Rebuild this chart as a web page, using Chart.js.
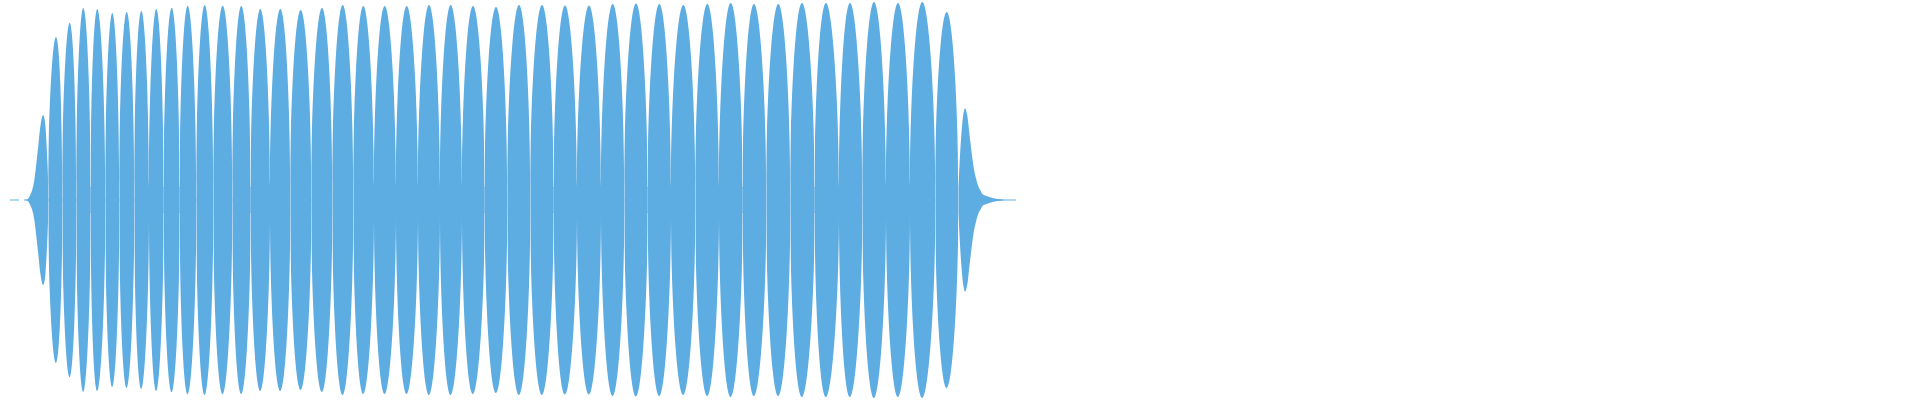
<!DOCTYPE html>
<html>
<head>
<meta charset="utf-8">
<script src="https://cdn.jsdelivr.net/npm/chart.js@4/dist/chart.umd.min.js"></script>
<style>
  html, body { margin: 0; padding: 0; background: #fff; }
  #wrap { width: 1920px; height: 400px; }
</style>
</head>
<body>
<div id="wrap"><canvas id="wave"></canvas></div>
<script>
// time in ms (0..1920), amplitude normalised to full scale
const headT   = [24, 27.5, 30, 32.5, 34.5, 36.5, 38.5, 40.5, 43, 45.5, 47.5];
const headAmp = [0, 0.004, 0.023, 0.055, 0.105, 0.190, 0.281, 0.373, 0.424, 0.366, 0.180];

const gapT = [48.3, 62.3, 76.3, 90.7, 105.3, 119.3, 134.3, 149, 163.7, 179.7,
  196.3, 213.3, 232.3, 250.7, 270, 290.3, 311.3, 332.3, 353.3, 374,
  396, 418, 440, 462, 484.7, 507.3, 530.3, 553.7, 577, 601,
  624.3, 647.7, 671, 695.3, 719, 742.7, 766.3, 790.3, 814.7, 839,
  862.3, 886, 910, 935.3, 958.3];
const bandAmp = 0.065;

const peakT = [56, 69.7, 83.3, 97.3, 112.3, 126.7, 141.3, 156.3, 171.7, 187.7,
  204.7, 222.7, 241.3, 260.3, 280.3, 300.7, 322, 342.7, 363.3, 384.7,
  406.7, 429, 450.7, 473, 496, 519, 542, 565, 589, 612.7,
  636, 659.3, 683.3, 707.3, 730.7, 754, 778.3, 802, 826, 850,
  874, 898, 922.3, 946.7];
const peakAmp = [0.815, 0.886, 0.960, 0.955, 0.935, 0.940, 0.945, 0.955, 0.961, 0.971,
  0.975, 0.971, 0.970, 0.955, 0.955, 0.950, 0.960, 0.975, 0.970, 0.970,
  0.970, 0.975, 0.975, 0.970, 0.965, 0.975, 0.975, 0.973, 0.973, 0.980,
  0.983, 0.980, 0.975, 0.980, 0.985, 0.980, 0.980, 0.985, 0.985, 0.985,
  0.990, 0.985, 0.990, 0.940];

const tailT   = [959.2, 960.2, 961.2, 962.2, 963.2, 965, 967, 968.2, 969.2, 970.2,
  971.2, 972.2, 973.2, 974.2, 976.2, 978.2, 980.5, 982.5, 985, 988, 992.5, 997.5, 1003];
const tailAmp = [0.148, 0.240, 0.315, 0.380, 0.423, 0.459, 0.430, 0.390, 0.340, 0.298,
  0.255, 0.215, 0.178, 0.148, 0.105, 0.070, 0.048, 0.030, 0.023, 0.018, 0.010, 0.005, 0.0025];

// stretches of silence drawn as a flat trace
const silenceT = [[10, 19], [24, 28], [990, 1016]];

const COLOR = "#5dade2";
const datasets = [];

function addLobe(points, monotone) {
  [1, -1].forEach(sign => {
    datasets.push({
      data: points.map(p => ({ x: p[0], y: sign * p[1] })),
      backgroundColor: COLOR,
      borderWidth: 0,
      pointRadius: 0,
      fill: "origin",
      tension: monotone ? 0.4 : 0.5,
      cubicInterpolationMode: monotone ? "monotone" : "default"
    });
  });
}

// first lobe with its slow onset
const head = headT.map((t, i) => [t, headAmp[i]]);
head.push([gapT[0], bandAmp]);
addLobe(head, true);

// full lobes between consecutive gaps; the extra band-level points
// give the flanks a vertical start at the gap
peakT.forEach((t, i) => {
  const a = gapT[i], b = gapT[i + 1];
  addLobe([
    [a, bandAmp], [t, bandAmp], [a, bandAmp],
    [t, peakAmp[i]],
    [b, bandAmp], [t, bandAmp], [b, bandAmp]
  ], false);
});

// last lobe with its decay
const tail = [[gapT[gapT.length - 1], bandAmp]].concat(tailT.map((t, i) => [t, tailAmp[i]]));
addLobe(tail, true);

// flat trace
const flat = [];
silenceT.forEach(s => {
  flat.push({ x: s[0], y: 0 }, { x: s[1], y: 0 }, { x: s[1] + 0.1, y: null });
});
datasets.push({
  data: flat,
  borderColor: COLOR,
  borderWidth: 1,
  pointRadius: 0,
  fill: false,
  tension: 0,
  spanGaps: false
});

new Chart(document.getElementById("wave"), {
  type: "line",
  data: { datasets },
  options: {
    responsive: true,
    maintainAspectRatio: false,
    animation: false,
    layout: { padding: 0 },
    plugins: { legend: { display: false }, tooltip: { enabled: false } },
    scales: {
      x: { type: "linear", min: 0, max: 1920, display: false },
      y: { min: -1, max: 1, display: false }
    }
  }
});
</script>
</body>
</html>
